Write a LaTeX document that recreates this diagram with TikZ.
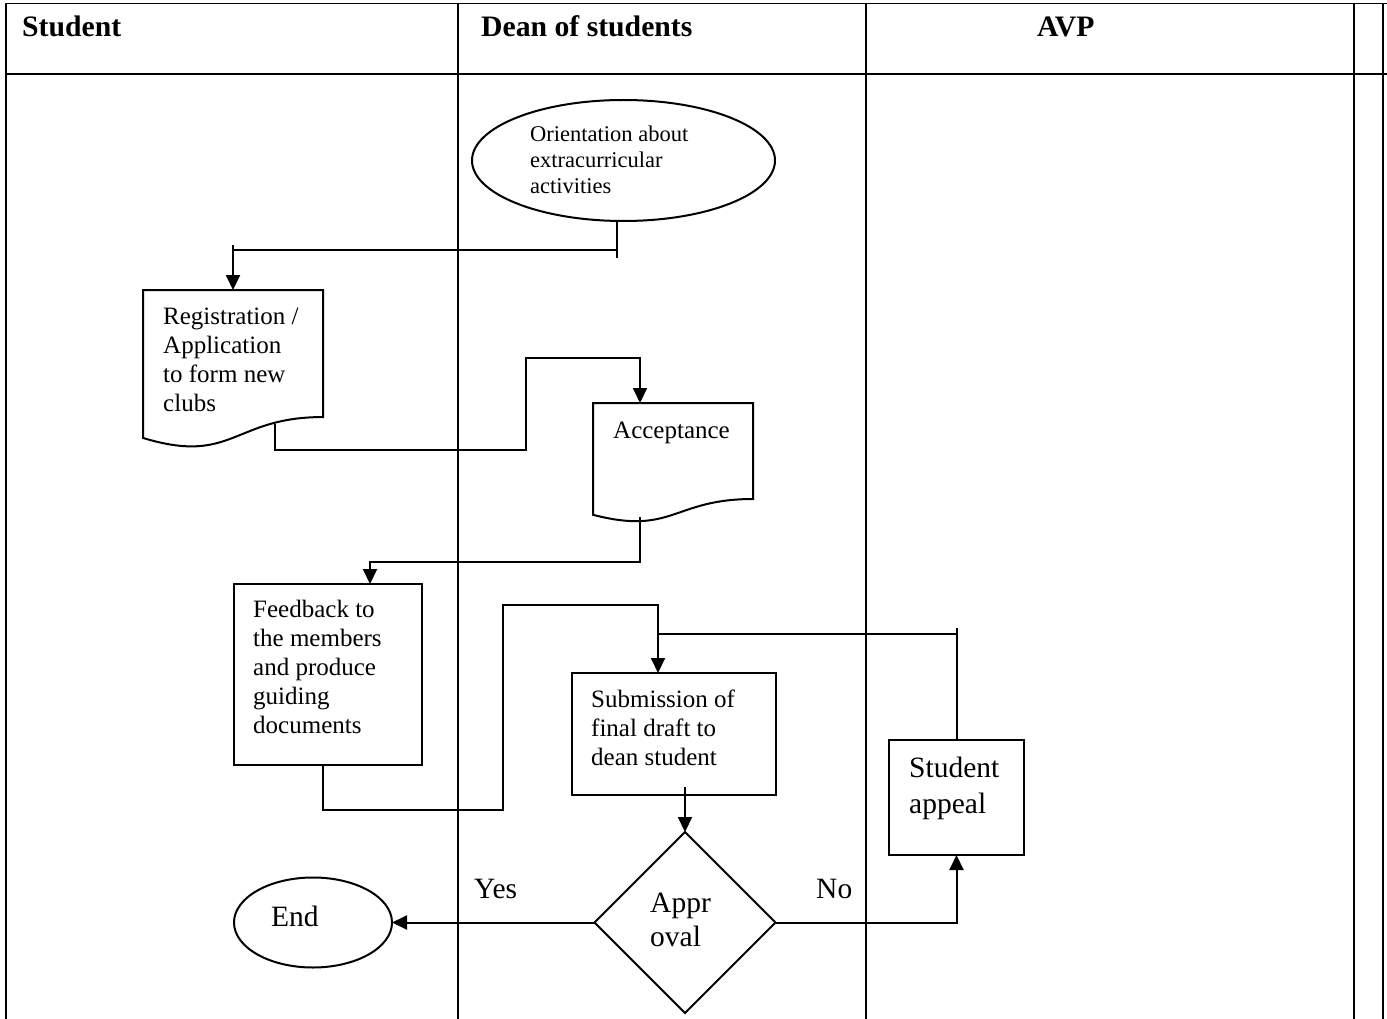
\documentclass[tikz,border=0pt]{standalone}
\usepackage{fontspec}
\setmainfont{Liberation Serif}
\usetikzlibrary{arrows.meta,shapes.geometric,calc}

% left-aligned multi-line text whose baseline is the first line's baseline
\newcommand\txtlines[1]{\begin{tabular}[t]{@{}l@{}}#1\end{tabular}}
% flowchart "document" outline (wavy bottom edge) around an invisible node
\newcommand\docoutline[1]{%
  \draw[shape line] (#1.north east)
    -- ($(#1.north east)!0.802!(#1.south east)$)
    .. controls ($(#1.north)!0.802!(#1.south)$) and ($(#1.north)!1.1075!(#1.south)$)
    .. ($(#1.north west)!0.934!(#1.south west)$)
    -- (#1.north west) -- cycle;}

\begin{document}
\begin{tikzpicture}[x=1pt,y=-1pt,
  frame/.style={line width=1.1pt},
  heavy/.style={line width=2.4pt},
  shape line/.style={line width=2pt},
  flow/.style={line width=2pt},
  arr/.style={flow,-{Triangle[length=15pt,width=14pt]}},
  area/.style={inner sep=0pt, outer sep=0pt},
  box/.style={area, draw, shape line},
  lbl/.style={inner sep=0pt, anchor=base west, font=\fontsize{25}{29}\selectfont},
  big/.style={inner sep=0pt, anchor=base west, font=\fontsize{29.5}{36}\selectfont},
  head/.style={inner sep=0pt, anchor=base west, font=\fontsize{29.7}{34}\selectfont\bfseries},
]
\useasboundingbox (0,0) rectangle (1387,1019);

% ---- swimlane frame ----
\draw[frame] (6,3.5) -- (1387,3.5);
\draw[frame] (6,3.5) -- (6,1019);
\draw[frame] (458,3.5) -- (458,1019);
\draw[frame] (866,3.5) -- (866,1019);
\draw[heavy] (6,74) -- (1387,74);
\draw[heavy] (1354,3.5) -- (1354,1019);
\draw[heavy] (1383,3.5) -- (1383,1019);

% ---- lane headings ----
\node[head] (hStudent) at (22,36.5) {Student};
\node[head] (hDean) at (481,36.5) {Dean of students};
\node[head] (hAvp) at (1037,36.5) {AVP};

% ---- shapes ----
\node[ellipse, draw, shape line, area, minimum width=303, minimum height=121] (orient) at (623.5,160.5) {};
\node[area, minimum width=180, minimum height=158.4] (reg) at (233,369.2) {};
\docoutline{reg}
\node[area, minimum width=160, minimum height=119.7] (acc) at (673,462.85) {};
\docoutline{acc}
\node[box, minimum width=188, minimum height=181] (feed) at (328,674.5) {};
\node[box, minimum width=204, minimum height=122] (sub) at (674,734) {};
\node[box, minimum width=135, minimum height=115] (appeal) at (956.5,797.5) {};
\node[diamond, draw, shape line, area, aspect=1, minimum width=181, minimum height=181] (appr) at (685,922.5) {};
\node[ellipse, draw, shape line, area, minimum width=158, minimum height=90] (end) at (313,922.5) {};

% ---- texts ----
\node[lbl, font=\fontsize{22.5}{26}\selectfont] (orientText) at (530,141.5) {\txtlines{Orientation about\\extracurricular\\activities}};
\node[lbl] (regText) at (163,324) {\txtlines{Registration /\\Application\\to form new\\clubs}};
\node[lbl, anchor=base] (accText) at (671.5,438) {Acceptance};
\node[lbl] (feedText) at (253,617) {\txtlines{Feedback to\\the members\\and produce\\guiding\\documents}};
\node[lbl] (subText) at (591,707) {\txtlines{Submission of\\final draft to\\dean student}};
\node[big] (appealText) at (909,777.5) {\txtlines{Student\\appeal}};
\node[big, font=\fontsize{29.5}{34}\selectfont] (apprText) at (650,912) {\txtlines{Appr\\oval}};
\node[big] (endText) at (271,926) {End};
\node[big] (yesText) at (474,898) {Yes};
\node[big] (noText) at (816,898) {No};

% ---- connectors ----
% orientation -> registration
\coordinate (orientOut) at ($(orient.south)+(-6.5,0)$);
\draw[flow] (orientOut) -- ++(0,37);
\draw[arr] ($(orientOut)+(0,29)$) -| (reg.north);
\draw[flow] (reg.north) ++(0,-45) -- ++(0,8);
% registration -> acceptance
\coordinate (regOut) at ($(reg.north)+(42,134)$);
\coordinate (accIn) at ($(acc.north)+(-33,0)$);
\draw[arr] (regOut) |- ($(regOut)+(251,26)$) |- ($(accIn)+(0,-45)$) -- (accIn);
% acceptance -> feedback
\coordinate (accOut) at ($(acc.north)+(-33,114)$);
\coordinate (feedIn) at ($(feed.north)+(42,0)$);
\draw[arr] (accOut) |- ($(feedIn)+(0,-22)$) -- (feedIn);
% feedback -> submission
\coordinate (feedOut) at ($(feed.south)+(-5,0)$);
\coordinate (subIn) at ($(sub.north)+(-16,0)$);
\draw[arr] (feedOut) |- ($(feedOut)+(180,45)$) |- ($(subIn)+(0,-68)$) -- (subIn);
% appeal -> back into submission
\draw[flow] (appeal.north) -- ++(0,-112);
\draw[flow] ($(appeal.north)+(0,-106)$) -- ($(subIn)+(1,-39)$);
% submission -> approval
\draw[arr] ($(sub.south)+(11,-8)$) -- (appr.north);
% approval -> end / appeal
\draw[arr] (appr.west) -- (end.east);
\draw[arr] (appr.east) -| (appeal.south);
\end{tikzpicture}
\end{document}
